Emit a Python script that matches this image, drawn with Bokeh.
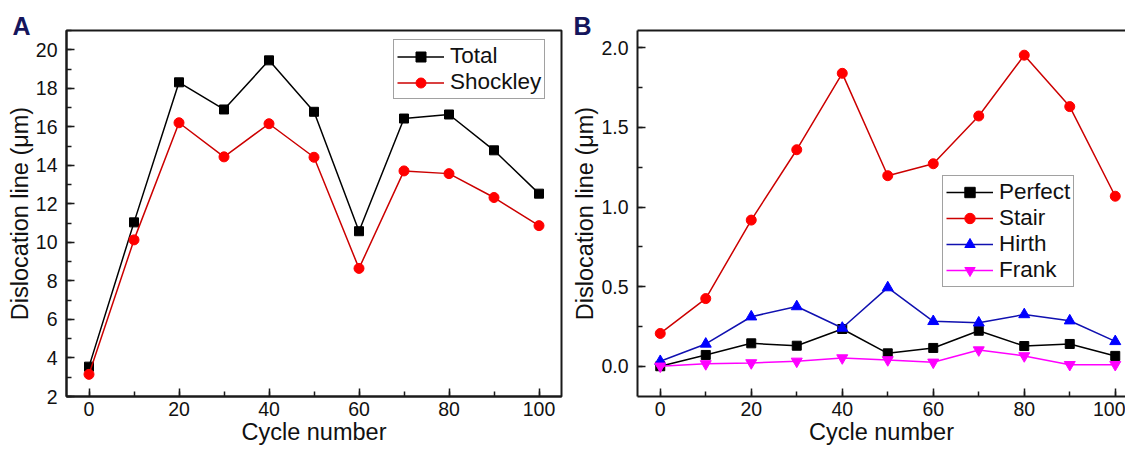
from bokeh.plotting import figure
from bokeh.models import (Range1d, LinearAxis, Legend, LegendItem, Label,
                          FixedTicker, NumeralTickFormatter)
from bokeh.layouts import row
from bokeh.embed import file_html
from bokeh.resources import INLINE

# ---------------- data ----------------
cycles = [0, 10, 20, 30, 40, 50, 60, 70, 80, 90, 100]
total = [3.55, 11.04, 18.31, 16.90, 19.45, 16.78, 10.58, 16.43, 16.64, 14.78, 12.53]
shockley = [3.15, 10.13, 16.21, 14.44, 16.16, 14.42, 8.65, 13.71, 13.57, 12.33, 10.87]

perfect = [0.0, 0.071, 0.144, 0.129, 0.234, 0.081, 0.115, 0.223, 0.127, 0.140, 0.065]
stair = [0.206, 0.425, 0.918, 1.36, 1.84, 1.197, 1.272, 1.572, 1.954, 1.631, 1.068]
hirth = [0.031, 0.140, 0.311, 0.375, 0.240, 0.494, 0.282, 0.273, 0.325, 0.286, 0.156]
frank = [0.0, 0.015, 0.021, 0.031, 0.052, 0.040, 0.025, 0.102, 0.065, 0.010, 0.010]

x_ticks = [0, 20, 40, 60, 80, 100]
x_minor = [0, 10, 20, 30, 40, 50, 60, 70, 80, 90, 100]
a_y_ticks = [2, 4, 6, 8, 10, 12, 14, 16, 18, 20]
a_y_minor = list(range(2, 22))
b_y_ticks = [0.0, 0.5, 1.0, 1.5, 2.0]
b_y_minor = [0.0, 0.25, 0.5, 0.75, 1.0, 1.25, 1.5, 1.75, 2.0]

FONT = "Liberation Sans"
AX = "#1a1a1a"
NAVY = "#15155c"


def style_axis(ax, ticks, minor, label):
    ax.ticker = FixedTicker(ticks=ticks, minor_ticks=minor)
    ax.axis_label = label
    ax.axis_label_text_font = FONT
    ax.axis_label_text_font_size = "23.5px"
    ax.axis_label_text_font_style = "normal"
    ax.axis_label_text_color = "#111111"
    ax.major_label_text_font = FONT
    ax.major_label_text_font_size = "19.5px"
    ax.major_label_text_color = "#111111"
    ax.axis_line_color = AX
    ax.axis_line_width = 2
    ax.major_tick_line_color = AX
    ax.minor_tick_line_color = AX
    ax.major_tick_line_width = 1.5
    ax.minor_tick_line_width = 1.5
    ax.major_tick_in = 8
    ax.major_tick_out = 0
    ax.minor_tick_in = 5
    ax.minor_tick_out = 0


def base_fig(width, bl, br, bt, bb, xr, yr):
    p = figure(width=width, height=450, output_backend="svg", toolbar_location=None,
               x_range=Range1d(*xr), y_range=Range1d(*yr),
               min_border_left=bl, min_border_right=br,
               min_border_top=bt, min_border_bottom=bb)
    p.title.visible = False
    p.xgrid.visible = False
    p.ygrid.visible = False
    p.background_fill_color = "white"
    p.border_fill_color = "white"
    return p


def add_letter(p, letter, offset):
    p.add_layout(Label(x=offset, y=5, x_units="screen", y_units="screen", text=letter,
                       text_baseline="alphabetic", text_align="left",
                       text_font=FONT, text_font_size="25px", text_font_style="bold",
                       text_color=NAVY), "above")


def add_legend(p, items, loc, row_h):
    lg = Legend(items=items, location=loc)
    lg.label_text_font = FONT
    lg.label_text_font_size = "22.5px"
    lg.label_text_color = "#111111"
    lg.glyph_width = 47
    lg.glyph_height = row_h
    lg.label_height = row_h
    lg.label_standoff = 6
    lg.padding = 3
    lg.spacing = 0
    lg.margin = 0
    lg.border_line_color = "#444444"
    lg.border_line_width = 1.5
    lg.background_fill_alpha = 1
    p.add_layout(lg)


# ---------------- panel A ----------------
pa = base_fig(567, 66, 6, 30, 54, (-5, 105), (2, 21))
pa.outline_line_color = AX
pa.outline_line_width = 2
style_axis(pa.xaxis[0], x_ticks, x_minor, "Cycle number")
style_axis(pa.yaxis[0], a_y_ticks, a_y_minor, "Dislocation line (\u03bcm)")
pa.xaxis.major_label_standoff = 5
pa.xaxis.axis_label_standoff = 0
pa.yaxis.major_label_standoff = 9
pa.yaxis.axis_label_standoff = 0

lt = pa.line(cycles, total, line_color="black", line_width=1.5)
st = pa.scatter(cycles, total, marker="square", size=9, fill_color="black", line_color="black")
ls = pa.line(cycles, shockley, line_color="#cc0000", line_width=1.5)
ss = pa.scatter(cycles, shockley, marker="circle", size=10, fill_color="#ff0000", line_color="#ff0000")
add_legend(pa, [LegendItem(label="Total", renderers=[lt, st]),
                LegendItem(label="Shockley", renderers=[ls, ss])], (327, 297), 25)
add_letter(pa, "A", -54)

# ---------------- panel B ----------------
pb = base_fig(558, 70, 0, 30, 54, (-5, 102.25), (-0.19, 2.109))
pb.outline_line_color = None
style_axis(pb.xaxis[0], x_ticks, x_minor, "Cycle number")
style_axis(pb.yaxis[0], b_y_ticks, b_y_minor, "Dislocation line (\u03bcm)")
pb.yaxis[0].formatter = NumeralTickFormatter(format="0.0")
pb.xaxis.major_label_standoff = 5
pb.xaxis.axis_label_standoff = 0
pb.yaxis.major_label_standoff = 9
pb.yaxis.axis_label_standoff = 0
top_ax = LinearAxis(axis_line_color=AX, axis_line_width=2,
                    major_tick_line_color=None, minor_tick_line_color=None,
                    major_tick_in=0, major_tick_out=0, minor_tick_in=0, minor_tick_out=0,
                    major_label_text_font_size="0px", major_label_standoff=0,
                    ticker=FixedTicker(ticks=[]))
pb.add_layout(top_ax, "above")

lp = pb.line(cycles, perfect, line_color="black", line_width=1.5)
sp = pb.scatter(cycles, perfect, marker="square", size=9, fill_color="black", line_color="black")
lsr = pb.line(cycles, stair, line_color="#cc0000", line_width=1.5)
ssr = pb.scatter(cycles, stair, marker="circle", size=10, fill_color="#ff0000", line_color="#ff0000")
lh = pb.line(cycles, hirth, line_color="#1010b0", line_width=1.5)
sh = pb.scatter(cycles, hirth, marker="triangle", size=11, fill_color="#0000ff", line_color="#0000ff")
lf = pb.line(cycles, frank, line_color="#ff00ff", line_width=1.5)
sf = pb.scatter(cycles, frank, marker="inverted_triangle", size=11, fill_color="#ff00ff", line_color="#ff00ff")
add_legend(pb, [LegendItem(label="Perfect", renderers=[lp, sp]),
                LegendItem(label="Stair", renderers=[lsr, ssr]),
                LegendItem(label="Hirth", renderers=[lh, sh]),
                LegendItem(label="Frank", renderers=[lf, sf])], (305, 109), 26)
add_letter(pb, "B", -64)

layout = row(pa, pb)
open("out.html", "w").write(file_html(layout, INLINE))
